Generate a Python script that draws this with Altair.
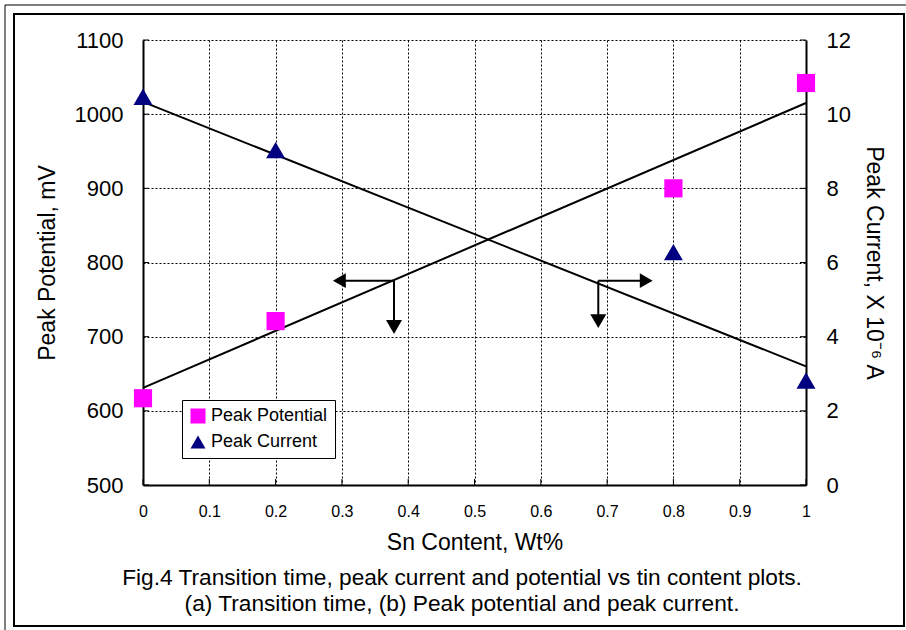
import altair as alt
import pandas as pd

# ---------------- data ----------------
sn_content = [0.0, 0.2, 0.8, 1.0]
peak_potential = [617, 721, 900, 1042]          # mV
peak_current = [10.47, 9.03, 6.28, 2.82]        # x 10^-6 A

fit_x = [0.0, 1.0]
potential_fit = [631, 1015]
current_fit = [10.33, 3.20]

series_names = ["Peak Potential", "Peak Current"]
series_colors = ["#FF00FF", "#000080"]
series_shapes = ["square", "triangle-up"]

x_ticks = [0, 0.1, 0.2, 0.3, 0.4, 0.5, 0.6, 0.7, 0.8, 0.9, 1]
potential_ticks = [500, 600, 700, 800, 900, 1000, 1100]
current_ticks = [0, 2, 4, 6, 8, 10, 12]

# arrow annotations (data coords: Sn content, mV)
arrow_x1 = [0.3786, 0.3786, 0.6867, 0.6867]
arrow_y1 = [775.5, 775.5, 775.5, 775.5]
arrow_x2 = [0.2962, 0.3786, 0.6867, 0.759]
arrow_y2 = [775.5, 713, 721, 775.5]
head_left = ([0.2962], [775.5])
head_down = ([0.3786, 0.6867], [713, 721])
head_right = ([0.759], [775.5])

x_title = "Sn Content, Wt%"
left_title = "Peak Potential, mV"
right_title = "Peak Current, X 10\u207b\u2076 A"
caption_lines = [
    "Fig.4 Transition time, peak current and potential vs tin content plots.",
    "(a) Transition time, (b) Peak potential and peak current.",
]

FONT = "Liberation Sans"
W, H = 663, 445

pot_df = pd.DataFrame({"sn": sn_content, "val": peak_potential, "series": series_names[0]})
cur_df = pd.DataFrame({"sn": sn_content, "val": peak_current, "series": series_names[1]})
pot_fit_df = pd.DataFrame({"sn": fit_x, "val": potential_fit})
cur_fit_df = pd.DataFrame({"sn": fit_x, "val": current_fit})
arrow_df = pd.DataFrame({"x1": arrow_x1, "y1": arrow_y1, "x2": arrow_x2, "y2": arrow_y2})
xt_df = pd.DataFrame({"t": x_ticks})
pt_df = pd.DataFrame({"t": potential_ticks})
one = pd.DataFrame({"a": [0]})

xscale = alt.Scale(domain=[0, 1], nice=False, zero=False)
pscale = alt.Scale(domain=[500, 1100], nice=False, zero=False)
cscale = alt.Scale(domain=[0, 12], nice=False, zero=False)

legend = alt.Legend(title=None, orient="none", legendX=39, legendY=360)
color_enc = alt.Color("series:N", scale=alt.Scale(domain=series_names, range=series_colors),
                      legend=legend)
shape_enc = alt.Shape("series:N", scale=alt.Scale(domain=series_names, range=series_shapes),
                      legend=legend)

GRID_DASH = [2, 2]
x_axis = alt.Axis(values=x_ticks, title=x_title, labelFontSize=16, labelPadding=18,
                  ticks=False, grid=True, gridColor="black", gridDash=GRID_DASH, gridOpacity=1,
                  domainColor="black", domainWidth=2, titlePadding=12, labelFlush=False,
                  titleFontSize=23, format="~g")
left_axis = alt.Axis(values=potential_ticks, title=left_title, labelFontSize=22, labelPadding=20,
                     ticks=False, grid=True, gridColor="black", gridDash=GRID_DASH, gridOpacity=1,
                     domainColor="black", domainWidth=2, titlePadding=15, format="d",
                     titleFontSize=23)
right_axis = alt.Axis(values=current_ticks, title=right_title, orient="right", labelFontSize=22,
                      labelPadding=20, ticks=False, grid=False, domainColor="black",
                      domainWidth=2, titlePadding=11, format="d", titleFontSize=23)

X = lambda f: alt.X(f, scale=xscale, axis=x_axis)
YP = lambda f: alt.Y(f, scale=pscale, axis=left_axis)
YC = lambda f: alt.Y(f, scale=cscale, axis=right_axis)

pot_points = alt.Chart(pot_df).mark_point(filled=True, size=330, opacity=1).encode(
    x=X("sn:Q"), y=YP("val:Q"), color=color_enc, shape=shape_enc,
)
pot_line = alt.Chart(pot_fit_df).mark_line(color="black", strokeWidth=2).encode(
    x=X("sn:Q"), y=YP("val:Q"),
)
arrows = alt.Chart(arrow_df).mark_rule(color="black", strokeWidth=2).encode(
    x=X("x1:Q"), x2="x2:Q", y=YP("y1:Q"), y2="y2:Q",
)

def head(xs, ys, shape, size):
    return alt.Chart(pd.DataFrame({"sn": xs, "val": ys})).mark_point(
        shape=shape, filled=True, size=size, color="black", opacity=1).encode(
        x=X("sn:Q"), y=YP("val:Q"),
    )

heads = [head(*head_left, "triangle-left", 220), head(*head_down, "triangle-down", 256),
         head(*head_right, "triangle-right", 220)]

left_ticks = alt.Chart(pt_df).mark_rule(color="black", strokeWidth=1).encode(
    y=YP("t:Q"), x=alt.value(0), x2=alt.value(6))
right_ticks = alt.Chart(pt_df).mark_rule(color="black", strokeWidth=1).encode(
    y=YP("t:Q"), x=alt.value(W), x2=alt.value(W - 6))
bottom_ticks = alt.Chart(xt_df).mark_rule(color="black", strokeWidth=1).encode(
    x=X("t:Q"), y=alt.value(H), y2=alt.value(H - 6))

inner_frame = alt.Chart(one).mark_rect(fill=None, stroke="black", strokeWidth=2).encode(
    x=alt.value(-129), x2=alt.value(761), y=alt.value(-26), y2=alt.value(586))
outer_frame = alt.Chart(one).mark_rect(fill=None, stroke="black", strokeWidth=1).encode(
    x=alt.value(-138), x2=alt.value(780), y=alt.value(-35), y2=alt.value(600))

def caption(i, ypix):
    return alt.Chart(one).mark_text(fontSize=22.7, font=FONT, color="black", align="center",
                                    baseline="middle").encode(
        x=alt.value(319), y=alt.value(ypix), text=alt.value(caption_lines[i]))

left_layer = alt.layer(outer_frame, inner_frame, pot_line, arrows, *heads,
                       left_ticks, right_ticks, bottom_ticks, pot_points,
                       caption(0, 538), caption(1, 564))

cur_line = alt.Chart(cur_fit_df).mark_line(color="black", strokeWidth=2).encode(
    x=X("sn:Q"), y=YC("val:Q"),
)
cur_points = alt.Chart(cur_df).mark_point(filled=True, size=360, opacity=1).encode(
    x=X("sn:Q"), y=YC("val:Q"), color=color_enc, shape=shape_enc,
)
right_layer = alt.layer(cur_line, cur_points)

chart = alt.layer(left_layer, right_layer).resolve_scale(y="independent").properties(
    width=W, height=H,
    autosize=alt.AutoSizeParams(type="none"),
    padding={"left": 143, "top": 40, "right": 100, "bottom": 145},
    background="white",
).configure_view(stroke=None).configure_axis(
    labelFont=FONT, titleFont=FONT, labelColor="black", titleColor="black",
    titleFontWeight="normal",
).configure_legend(
    strokeColor="black", fillColor="white", padding=7, labelFont=FONT, labelFontSize=18,
    labelColor="black", symbolSize=225, symbolStrokeWidth=0, labelOffset=4, rowPadding=8,
    symbolOpacity=1,
)

chart.save("out.html", embed_options={"renderer": "svg", "actions": False})
